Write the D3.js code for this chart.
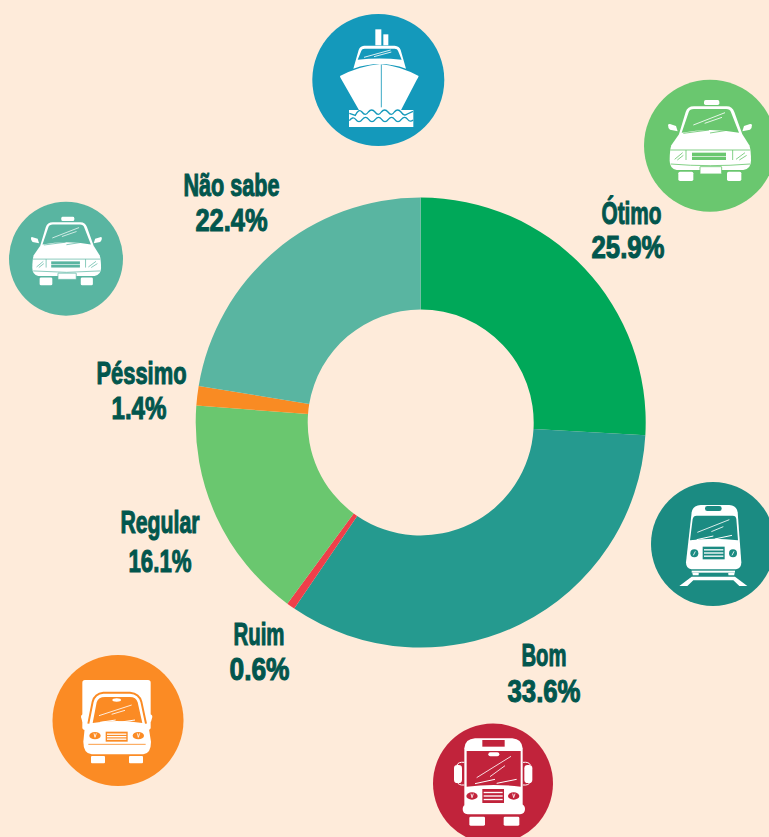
<!DOCTYPE html>
<html>
<head>
<meta charset="utf-8">
<script src="https://cdn.jsdelivr.net/npm/d3@7"></script>
<style>
  html, body { margin: 0; padding: 0; background: #feebda; }
  svg { display: block; }
  .lbl { font-family: "Liberation Sans Narrow", "Liberation Sans", sans-serif; font-size: 32px; font-weight: 700; fill: #02564d; stroke: #02564d; stroke-width: 1.1px; text-anchor: middle; }
</style>
</head>
<body>
<svg id="chart" width="769" height="837"></svg>
<script>
var categories = ["Ótimo", "Bom", "Ruim", "Regular", "Péssimo", "Não sabe"];
var values = [25.9, 33.6, 0.6, 16.1, 1.4, 22.4];
var sliceColors = ["#00a859", "#259a8f", "#ef3f4a", "#6ac76f", "#f98b23", "#59b5a1"];

// label layout, hand placed: x, baseline, width of the name then of the value
var nameLayout = [[631.5, 224, 61], [544, 666, 46], [259, 645, 52], [160, 533, 80], [141.5, 384, 91], [231.5, 196, 97]];
var valueLayout = [[628, 258, 74], [544, 702, 74], [259.5, 680, 61], [160, 572, 64], [139, 419, 56], [231.5, 231, 73]];

var svg = d3.select("#chart"),
    cx = 420.7, cy = 422.5,
    outer = 225, inner = 113;

var pie = d3.pie().sort(null).value(function(d) { return d; });
var arc = d3.arc().innerRadius(inner).outerRadius(outer);

svg.append("g")
    .attr("transform", "translate(" + cx + "," + cy + ")")
  .selectAll("path")
    .data(pie(values))
  .enter().append("path")
    .attr("d", arc)
    .attr("fill", function(d, i) { return sliceColors[i]; });

function label(txt, p) {
  svg.append("text").attr("class", "lbl")
      .attr("x", p[0]).attr("y", p[1])
      .attr("textLength", p[2] - 1)
      .attr("lengthAdjust", "spacingAndGlyphs")
      .text(txt);
}
categories.forEach(function(name, i) {
  label(name, nameLayout[i]);
  label(values[i].toFixed(1) + "%", valueLayout[i]);
});

// icons are drawn in a 3x grid, same as the crops they were read from
function icon(x, y, r, color, draw, tx, ty, s) {
  svg.append("circle").attr("cx", x).attr("cy", y).attr("r", r).attr("fill", color);
  var g = svg.append("g")
      .attr("transform", "translate(" + tx + "," + ty + ") scale(" + (s / 3) + ")");
  draw(g, color);
}
function white(g, d) { return g.append("path").attr("d", d).attr("fill", "#fff"); }
function hole(g, d, c) { return g.append("path").attr("d", d).attr("fill", c); }
function line(g, d, c, w) { return g.append("path").attr("d", d).attr("fill", "none").attr("stroke", c).attr("stroke-width", w); }
function box(g, x, y, w, h, rx, c) {
  return g.append("rect").attr("x", x).attr("y", y).attr("width", w).attr("height", h).attr("rx", rx).attr("fill", c);
}
function grille(g, x, y, w, h, c) {
  box(g, x, y, w, h, 0, c);
  for (var i = 1; i < 4; i++) box(g, x + 4, y + i * h / 4 - 2, w - 8, 4, 0, "#fff");
}
function lamp(g, x, y, c) {
  g.append("ellipse").attr("cx", x).attr("cy", y).attr("rx", 17).attr("ry", 11).attr("fill", c);
  line(g, "M" + (x - 3) + "," + (y - 7) + " L" + x + "," + (y + 5) + " L" + (x + 4) + "," + (y - 7), "#fff", 2.5);
}

function ship(g, c) {
  box(g, 226, 88, 18, 48, 0, "#fff");
  box(g, 250, 103, 15, 33, 0, "#fff");
  white(g, "M160,206 L176,150 Q180,138 192,137 H284 Q298,138 302,150 L318,206 Q240,178 160,206Z");
  hole(g, "M173,179 L184,152 Q186,146 194,146 H284 Q292,146 294,152 L305,179 Q240,172 173,179Z", c);
  line(g, "M192,172 L272,150 M222,170 L274,156", "#fff", 2.5);
  white(g, "M120,228 Q178,198 240,192 Q300,198 356,228 Q355,233 350,240 L302,332 H178 L124,238 Q120,232 120,228Z");
  line(g, "M244,194 V322", c, 2.5);
  white(g, "M147,330 H340 V381 H147Z");
  line(g, "M148,340 L166,346 Q176,324 186,336 Q196,350 205,336 Q215,324 225,336 Q235,350 244,336 Q254,324 264,336 Q274,350 283,336 Q293,324 303,336 Q313,350 322,342 L339,334", c, 4);
  line(g, "M148,362 Q158,348 167,358 Q177,372 187,358 Q197,346 206,358 Q216,372 226,358 Q236,346 245,358 Q255,372 265,358 Q275,346 284,358 Q294,372 304,358 Q314,346 323,358 Q331,368 339,360", c, 4);
}

function taxi(g, c) {
  box(g, 222, 90, 46, 15, 5, "#fff");
  white(g, "M114,165 Q115,161 120,162 L138,168 L143,184 L120,179 Q114,175 114,165Z");
  white(g, "M366,165 Q365,161 360,162 L342,168 L337,184 L360,179 Q366,175 366,165Z");
  white(g, "M146,196 L167,126 Q172,109 192,109 H290 Q307,109 313,126 L338,196Z");
  hole(g, "M155,188 L176,127 Q179,117 192,117 H288 Q300,117 303,127 L327,188 Q240,172 155,188Z", c);
  line(g, "M190,165 L285,128 M224,160 L276,142", "#fff", 2.5);
  white(g, "M146,194 Q240,178 338,194 L358,226 Q363,240 363,272 Q363,296 340,300 H140 Q119,296 119,272 Q119,240 124,226Z");
  line(g, "M160,190 L237,180 M240,189 L303,179", c, 2.5);
  line(g, "M121,240 H360 M168,240 V270 M308,240 V270 M122,282 Q240,292 360,282", c, 2.5);
  line(g, "M134,268 L158,248 M142,270 L160,256 M318,268 L345,248 M328,270 L350,256", c, 2.5);
  box(g, 186, 248, 102, 10, 0, c);
  box(g, 186, 260, 102, 10, 0, c);
  box(g, 210, 290, 65, 22, 1, "#fff").attr("stroke", c).attr("stroke-width", 2.5);
  box(g, 145, 305, 45, 28, 5, "#fff");
  box(g, 291, 305, 43, 28, 5, "#fff");
}

function train(g, c) {
  white(g, "M138,262 L155,112 Q158,91 182,90 H268 Q290,91 293,112 L304,262 Q304,281 288,283 H154 Q138,281 138,262Z");
  box(g, 195, 93, 50, 15, 7, c);
  hole(g, "M150,196 L158,132 Q160,122 170,122 H278 Q288,122 289,132 L294,196 Q220,186 150,196Z", c);
  line(g, "M172,172 L268,134 M214,170 L250,155", "#fff", 2.5);
  line(g, "M170,194 L220,183 M224,192 L276,181", "#fff", 3);
  g.append("circle").attr("cx", 163).attr("cy", 235).attr("r", 12).attr("fill", c);
  g.append("circle").attr("cx", 279).attr("cy", 235).attr("r", 12).attr("fill", c);
  line(g, "M160,241 L166,229 M276,241 L282,229", "#fff", 2.5);
  grille(g, 188, 215, 66, 38, c);
  box(g, 155, 287, 130, 6, 0, "#fff");
  box(g, 158, 293, 18, 8, 2, "#fff");
  box(g, 265, 293, 18, 8, 2, "#fff");
  white(g, "M118,333 L155,305 H285 L322,333 H298 L280,316 H160 L142,333Z");
}

function bus(g, c) {
  line(g, "M118,142 Q100,140 96,150 M118,210 Q100,212 96,200 M294,142 Q312,140 316,150 M294,210 Q312,212 316,200", "#fff", 3);
  box(g, 87, 150, 24, 54, 10, "#fff");
  box(g, 298, 150, 24, 54, 10, "#fff");
  white(g, "M118,100 Q120,72 150,70 H262 Q290,72 293,100 V270 H118Z");
  box(g, 172, 75, 67, 20, 0, c);
  hole(g, "M125,108 H287 V215 Q205,205 125,215Z", c);
  box(g, 190, 112, 33, 12, 6, "#fff");
  line(g, "M155,188 L258,124 M195,185 L240,152", "#fff", 2.5);
  line(g, "M150,206 L210,193 M215,205 L275,193", "#fff", 3);
  lamp(g, 141, 243, c);
  lamp(g, 266, 243, c);
  grille(g, 172, 222, 65, 42, c);
  white(g, "M113,282 Q113,268 128,268 H286 Q300,268 300,282 Q300,297 285,298 H128 Q113,297 113,282Z");
  box(g, 133, 305, 47, 27, 4, "#fff");
  box(g, 236, 305, 47, 27, 4, "#fff");
}

function truck(g, c) {
  box(g, 112, 105, 205, 150, 8, "#fff");
  white(g, "M108,216 Q108,208 116,208 H135 V230 H112Z M322,216 Q322,208 314,208 H295 V230 H318Z");
  line(g, "M130,236 L143,170 Q149,146 175,143 H255 Q283,146 289,170 L303,236", c, 6);
  hole(g, "M143,234 L155,172 Q160,156 180,156 H255 Q273,156 278,172 L292,234 Q215,222 143,234Z", c);
  g.append("ellipse").attr("cx", 215).attr("cy", 165).attr("rx", 13).attr("ry", 5).attr("fill", "#fff");
  line(g, "M162,212 L260,180 M200,208 L240,196", "#fff", 2.5);
  line(g, "M165,232 L212,225 M222,232 L270,225", "#fff", 3);
  white(g, "M120,240 Q215,228 310,240 L318,290 Q318,325 295,328 H140 Q115,325 115,290Z");
  lamp(g, 150, 272, c);
  lamp(g, 280, 272, c);
  grille(g, 182, 260, 66, 30, c);
  line(g, "M130,298 H302", c, 2.5);
  box(g, 138, 333, 42, 22, 3, "#fff");
  box(g, 252, 333, 42, 22, 3, "#fff");
}

icon(378.3, 80, 66, "#1499bb", ship, 300, 0, 1);
icon(710, 145.7, 66, "#6ac76f", taxi, 630, 70, 1);
icon(713, 544, 62, "#1b8b82", train, 640, 475, 1);
icon(493, 783.5, 60, "#c1233b", bus, 425, 715, 1);
icon(118, 720.5, 65.5, "#fb8b24", truck, 45, 645, 1);
icon(66, 258.7, 57, "#59b5a1", taxi, -1.2, 191.5, .845);
</script>
</body>
</html>
